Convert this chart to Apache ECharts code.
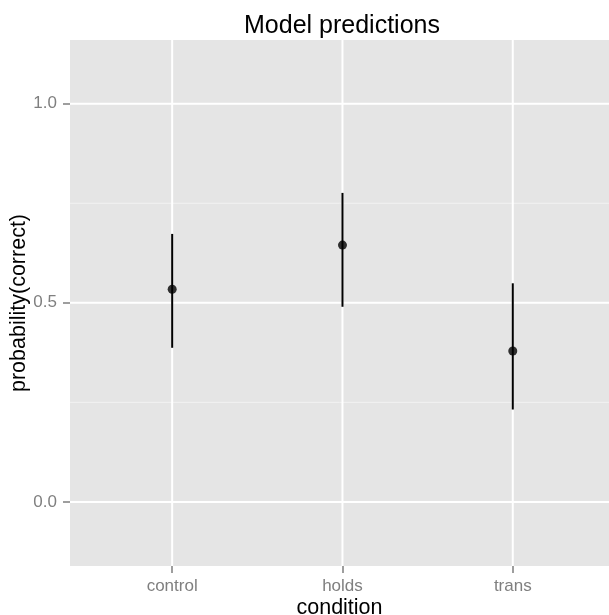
<!DOCTYPE html>
<html>
<head>
<meta charset="utf-8">
<script src="https://cdn.jsdelivr.net/npm/echarts@6/dist/echarts.min.js"></script>
<style>
html,body{margin:0;padding:0;background:#fff;}
#chart{width:609px;height:615px;}
</style>
</head>
<body>
<div id="chart"></div>
<script>
const categories = ['control', 'holds', 'trans'];
const estimates = [0.534, 0.645, 0.379];
const lower = [0.387, 0.490, 0.232];
const upper = [0.673, 0.776, 0.549];
const yMajorTicks = [0, 0.5, 1.0];
const yMinorTicks = [0.25, 0.75];
const xPositions = [0, 1, 2];

const FONT = 'Liberation Sans, Arial, sans-serif';
const chart = echarts.init(document.getElementById('chart'), null, {renderer: 'canvas'});

// gridline records: [orientation, value, kind]
const gridData = [];
yMinorTicks.forEach(v => gridData.push(['h', v, 'minor']));
yMajorTicks.forEach(v => gridData.push(['h', v, 'major']));
xPositions.forEach(v => gridData.push(['v', v, 'major']));

chart.setOption({
  animation: false,
  backgroundColor: '#ffffff',
  title: {
    text: 'Model predictions',
    left: 337,
    textAlign: 'center',
    top: 9,
    textStyle: {fontFamily: FONT, fontSize: 25, fontWeight: 'normal', color: '#000000'}
  },
  grid: {
    left: 70, right: 0, top: 40, bottom: 49,
    outerBoundsMode: 'none',
    containLabel: false,
    show: true, backgroundColor: '#e5e5e5', borderWidth: 0
  },
  xAxis: {
    type: 'value',
    min: -0.6, max: 2.565,
    name: 'condition',
    nameLocation: 'middle',
    nameGap: 31,
    nameMoveOverlap: false,
    nameTextStyle: {fontFamily: FONT, fontSize: 21.5, color: '#000000'},
    axisLine: {show: false, onZero: false},
    splitLine: {show: false},
    axisTick: {show: true, length: 7, customValues: xPositions, lineStyle: {color: '#7f7f7f', width: 1.5}},
    axisLabel: {
      customValues: xPositions,
      margin: 12,
      fontFamily: FONT, fontSize: 17, color: '#7f7f7f',
      formatter: v => categories[Math.round(v)] || ''
    }
  },
  yAxis: {
    type: 'value',
    min: -0.161, max: 1.16,
    name: 'probability(correct)',
    nameLocation: 'middle',
    nameRotate: 90,
    nameGap: 40,
    nameMoveOverlap: false,
    nameTextStyle: {fontFamily: FONT, fontSize: 21.5, color: '#000000'},
    axisLine: {show: false, onZero: false},
    splitLine: {show: false},
    axisTick: {show: true, length: 7, customValues: yMajorTicks, lineStyle: {color: '#7f7f7f', width: 1.5}},
    axisLabel: {
      customValues: yMajorTicks,
      margin: 13,
      fontFamily: FONT, fontSize: 17, color: '#7f7f7f',
      formatter: v => v.toFixed(1)
    }
  },
  series: [
    {
      type: 'custom',
      z: 1,
      silent: true,
      data: gridData.map(d => [d[0] === 'v' ? d[1] : 0, d[0] === 'h' ? d[1] : 0]),
      encode: {x: 0, y: 1},
      renderItem: function (params, api) {
        const d = gridData[params.dataIndex];
        const cs = params.coordSys;
        const minor = d[2] === 'minor';
        let shape;
        if (d[0] === 'h') {
          const y = api.coord([0, d[1]])[1];
          shape = {x1: cs.x, y1: y, x2: cs.x + cs.width, y2: y};
        } else {
          const x = api.coord([d[1], 0])[0];
          shape = {x1: x, y1: cs.y, x2: x, y2: cs.y + cs.height};
        }
        return {
          type: 'line',
          shape: shape,
          style: {stroke: minor ? '#f2f2f2' : '#ffffff', lineWidth: minor ? 1 : 2}
        };
      }
    },
    {
      type: 'custom',
      z: 5,
      data: xPositions.map((x, i) => [x, lower[i], upper[i]]),
      encode: {x: 0, y: [1, 2]},
      renderItem: function (params, api) {
        const lo = api.coord([api.value(0), api.value(1)]);
        const hi = api.coord([api.value(0), api.value(2)]);
        return {
          type: 'line',
          shape: {x1: lo[0], y1: lo[1], x2: hi[0], y2: hi[1]},
          style: {stroke: '#000000', lineWidth: 2}
        };
      }
    },
    {
      type: 'scatter',
      z: 6,
      symbol: 'circle',
      symbolSize: 9,
      itemStyle: {color: '#000000'},
      data: xPositions.map((x, i) => [x, estimates[i]])
    }
  ]
});
</script>
</body>
</html>
